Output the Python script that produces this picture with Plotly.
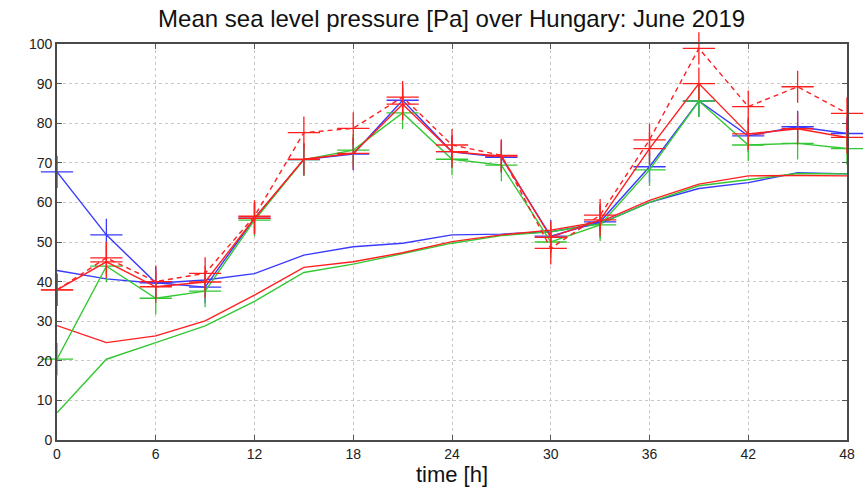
import plotly.graph_objects as go

hours = [0, 3, 6, 9, 12, 15, 18, 21, 24, 27, 30, 33, 36, 39, 42, 45, 48]

# series with markers
blue_m = [67.7, 51.8, 39.7, 38.6, 56.0, 70.8, 72.2, 85.8, 72.8, 71.4, 51.5, 55.1, 69.0, 85.6, 76.8, 79.1, 77.4]
green_m = [20.4, 43.9, 35.8, 37.6, 55.5, 70.8, 73.2, 82.6, 70.9, 69.4, 50.0, 54.3, 68.2, 85.6, 74.5, 74.9, 73.6]
red_m = [37.9, 45.0, 38.7, 39.9, 56.0, 70.9, 72.4, 84.8, 72.8, 71.7, 51.2, 55.6, 73.6, 90.0, 77.3, 78.6, 76.4]
red_dash = [37.9, 46.0, 40.0, 42.1, 56.5, 77.6, 78.7, 86.6, 74.5, 71.9, 48.4, 56.8, 75.8, 98.9, 84.2, 89.2, 82.5]

# series without markers
blue_l = [42.8, 40.7, 39.6, 40.4, 42.0, 46.7, 48.8, 49.7, 51.8, 52.0, 52.6, 54.7, 60.0, 63.5, 65.0, 67.5, 67.2]
green_l = [6.9, 20.4, 24.6, 28.8, 35.0, 42.3, 44.4, 47.0, 49.7, 51.6, 52.6, 54.6, 60.0, 64.2, 65.7, 67.3, 67.2]
red_l = [28.9, 24.6, 26.3, 30.1, 36.6, 43.6, 45.0, 47.3, 50.1, 51.8, 53.0, 55.1, 60.5, 64.6, 66.7, 66.8, 66.7]

BLUE = "#3a3aff"
GREEN = "#33c833"
RED = "#ff1f1f"

fig = go.Figure()

def line(y, color, dash="solid"):
    fig.add_trace(go.Scatter(x=hours, y=y, mode="lines",
                             line=dict(color=color, width=1.4, dash=dash),
                             cliponaxis=False, showlegend=False))

def mline(y, color, dash="solid"):
    fig.add_trace(go.Scatter(x=hours, y=y, mode="lines+markers",
                             line=dict(color=color, width=1.4, dash=dash),
                             marker=dict(symbol="cross-thin-open", size=23,
                                         line=dict(color=color, width=1.3)),
                             cliponaxis=False, showlegend=False))

line(blue_l, BLUE)
line(green_l, GREEN)
line(red_l, RED)
mline(blue_m, BLUE)
mline(green_m, GREEN)
mline(red_m, RED)
mline(red_dash, RED, dash="5px,4px")

axis_common = dict(
    showline=True, mirror="ticks", linecolor="#4a4a4a", linewidth=1.8,
    ticks="inside", ticklen=5, tickcolor="#555555",
    showgrid=True, gridcolor="#c8c8c8", griddash="dot", gridwidth=1,
    zeroline=False, automargin=False,
    tickfont=dict(family="Liberation Sans", size=14, color="#222222"),
)

fig.update_layout(
    width=868, height=498,
    paper_bgcolor="white", plot_bgcolor="white",
    margin=dict(l=57, r=21, t=44, b=58, autoexpand=False),
    title=dict(text="Mean sea level pressure [Pa] over Hungary: June 2019",
               x=0.5203, xanchor="center", y=0.963, yanchor="middle",
               font=dict(family="Liberation Sans", size=24, color="#111111")),
    xaxis=dict(range=[0, 48], tickmode="array", tickvals=list(range(0, 49, 6)),
               title=dict(text="time [h]", standoff=4,
                          font=dict(family="Liberation Sans", size=22, color="#111111")),
               **axis_common),
    yaxis=dict(range=[0, 100], tickmode="array", tickvals=list(range(0, 101, 10)),
               **axis_common),
)

fig.write_html("out.html",
               config={"displayModeBar": False},
               post_script="document.body.style.margin='0';document.body.style.overflow='hidden';")
